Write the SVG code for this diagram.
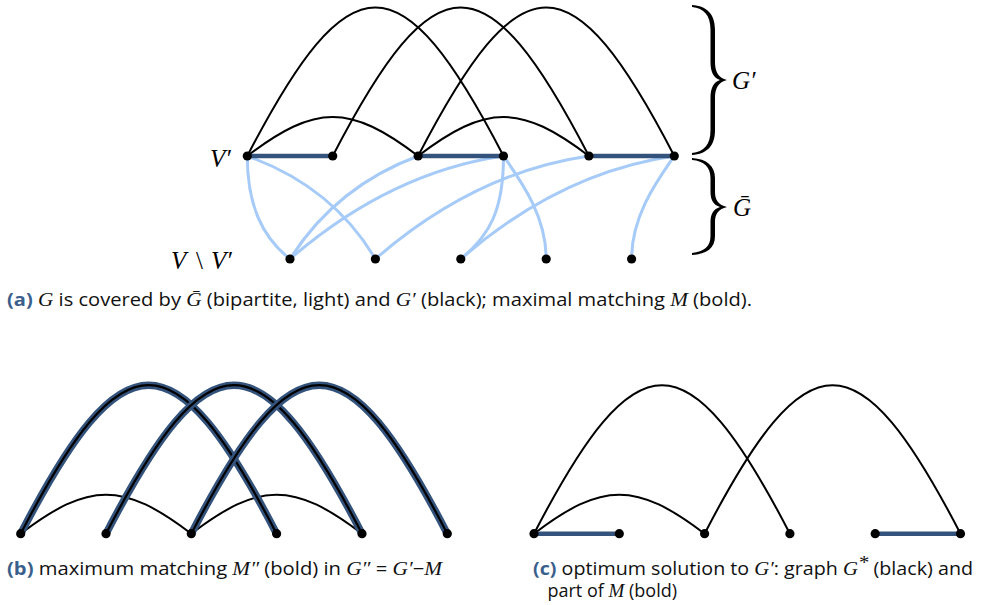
<svg xmlns="http://www.w3.org/2000/svg" width="981" height="605" viewBox="0 0 981 605">
<style>
.arc{fill:none;stroke:#000;stroke-width:2}
.lt{fill:none;stroke:#a6cbf8;stroke-width:3}
.bd{fill:none;stroke:#34537c;stroke-width:4.5}
.bo{fill:none;stroke:#34537c;stroke-width:7.5}
.bi{fill:none;stroke:#000;stroke-width:2.2}
.nd{fill:#000}
.cap{font-family:"Open Sans","Noto Sans",sans-serif;font-size:18px;fill:#111}
.lab{font-weight:bold;fill:#3b5f8c}
.m{font-family:"Liberation Serif",serif;font-style:italic;font-size:19px}
.ml{font-family:"Liberation Serif",serif;font-style:italic;font-size:25px;fill:#000}
.up{font-family:"Liberation Serif",serif;font-style:normal;font-size:25px;fill:#000}
.br{fill:#000}
</style>
<defs>
<circle id="dot" r="4.6"/>
</defs>

<g id="connectors">
  <g id="a-light">
    <path class="lt" d="M247.3,156 C247.3,205 262,237 290,259"/>
    <path class="lt" d="M247.3,156 Q332.6,186.5 375.4,259"/>
    <path class="lt" d="M418.1,156 Q336,186.5 290,259"/>
    <path class="lt" d="M503.5,156 Q390,172.5 290,259"/>
    <path class="lt" d="M503.5,156 C503.5,210 490,235 460.8,259"/>
    <path class="lt" d="M503.5,156 C520,180 546.2,215 546.2,259"/>
    <path class="lt" d="M588.9,156 Q475,172.5 375.4,259"/>
    <path class="lt" d="M674.3,156 Q560,172.5 460.8,259"/>
    <path class="lt" d="M674.3,156 C657.8,180 631.6,215 631.6,259"/>
  </g>
  <g id="a-black">
    <path class="arc" d="M247.3,156 C349.8,-42 401,-42 503.5,156"/>
    <path class="arc" d="M332.7,156 C435.2,-42 486.4,-42 588.9,156"/>
    <path class="arc" d="M418.1,156 C520.6,-42 571.8,-42 674.3,156"/>
    <path class="arc" d="M247.3,156 C315.6,104 349.8,104 418.1,156"/>
    <path class="arc" d="M418.1,156 C486.4,104 520.6,104 588.9,156"/>
  </g>
  <g id="a-bold">
    <path class="bd" d="M247.3,156 H332.7"/>
    <path class="bd" d="M418.1,156 H503.5"/>
    <path class="bd" d="M588.9,156 H674.3"/>
  </g>
  <g id="b-edges">
    <path class="arc" d="M20.7,533.7 C89,481.7 123,481.7 191.3,533.7"/>
    <path class="arc" d="M191.3,533.7 C259.6,481.7 293.7,481.7 362,533.7"/>
    <path class="bo" d="M20.7,533.7 C123.1,335.7 174.2,335.7 276.6,533.7"/>
    <path class="bi" d="M20.7,533.7 C123.1,335.7 174.2,335.7 276.6,533.7"/>
    <path class="bo" d="M106,533.7 C208.4,335.7 259.6,335.7 362,533.7"/>
    <path class="bi" d="M106,533.7 C208.4,335.7 259.6,335.7 362,533.7"/>
    <path class="bo" d="M191.3,533.7 C293.7,335.7 344.9,335.7 447.3,533.7"/>
    <path class="bi" d="M191.3,533.7 C293.7,335.7 344.9,335.7 447.3,533.7"/>
  </g>
  <g id="c-edges">
    <path class="arc" d="M534,533.7 C636.4,335.7 687.5,335.7 789.9,533.7"/>
    <path class="arc" d="M704.6,533.7 C807,335.7 858.1,335.7 960.5,533.7"/>
    <path class="arc" d="M534,533.7 C602.2,481.7 636.4,481.7 704.6,533.7"/>
    <path class="bd" d="M534,533.7 H619.3"/>
    <path class="bd" d="M875.2,533.7 H960.5"/>
  </g>
</g>

<g id="a-v0"><use href="#dot" class="nd" x="247.3" y="156"/></g>
<g id="a-v1"><use href="#dot" class="nd" x="332.7" y="156"/></g>
<g id="a-v2"><use href="#dot" class="nd" x="418.1" y="156"/></g>
<g id="a-v3"><use href="#dot" class="nd" x="503.5" y="156"/></g>
<g id="a-v4"><use href="#dot" class="nd" x="588.9" y="156"/></g>
<g id="a-v5"><use href="#dot" class="nd" x="674.3" y="156"/></g>
<g id="a-u0"><use href="#dot" class="nd" x="290" y="259"/></g>
<g id="a-u1"><use href="#dot" class="nd" x="375.4" y="259"/></g>
<g id="a-u2"><use href="#dot" class="nd" x="460.8" y="259"/></g>
<g id="a-u3"><use href="#dot" class="nd" x="546.2" y="259"/></g>
<g id="a-u4"><use href="#dot" class="nd" x="631.6" y="259"/></g>

<text class="ml" x="210" y="167">V′</text>
<g id="label-vminus">
  <text class="ml" x="171" y="269">V</text>
  <text class="up" x="196" y="269">\</text>
  <text class="ml" x="211" y="269">V′</text>
</g>

<g id="brace-top">
  <path class="br" d="M692,5 C707,6 715,14 715,30 L715,62 C715,72 718.5,78 727,80 C718.5,82 715,88 715,98 L715,130 C715,146 707,154 692,155 L692,153 C704,151.5 710.5,145 710.5,130 L710.5,98 C710.5,88 713.5,82 720,80 C713.5,78 710.5,72 710.5,62 L710.5,30 C710.5,15 704,8.5 692,7 Z"/>
  <text class="ml" x="732" y="89">G′</text>
</g>
<g id="brace-bottom">
  <path class="br" d="M692,158 C707,159 715,166 715,178 L715,192 C715,200 718.5,205 727,207 C718.5,209 715,214 715,222 L715,236 C715,248 707,254 692,255 L692,253 C704,251.5 710.5,247 710.5,236 L710.5,222 C710.5,214 713.5,209 720,207 C713.5,205 710.5,200 710.5,192 L710.5,178 C710.5,167 704,161 692,160 Z"/>
  <text class="ml" x="733" y="216">Ḡ</text>
</g>

<g id="b-v0"><use href="#dot" class="nd" x="20.7" y="533.7"/></g>
<g id="b-v1"><use href="#dot" class="nd" x="106" y="533.7"/></g>
<g id="b-v2"><use href="#dot" class="nd" x="191.3" y="533.7"/></g>
<g id="b-v3"><use href="#dot" class="nd" x="276.6" y="533.7"/></g>
<g id="b-v4"><use href="#dot" class="nd" x="362" y="533.7"/></g>
<g id="b-v5"><use href="#dot" class="nd" x="447.3" y="533.7"/></g>

<g id="c-v0"><use href="#dot" class="nd" x="534" y="533.7"/></g>
<g id="c-v1"><use href="#dot" class="nd" x="619.3" y="533.7"/></g>
<g id="c-v2"><use href="#dot" class="nd" x="704.6" y="533.7"/></g>
<g id="c-v3"><use href="#dot" class="nd" x="789.9" y="533.7"/></g>
<g id="c-v4"><use href="#dot" class="nd" x="875.2" y="533.7"/></g>
<g id="c-v5"><use href="#dot" class="nd" x="960.5" y="533.7"/></g>

<text class="cap" x="7" y="306" textLength="745" lengthAdjust="spacingAndGlyphs"><tspan class="lab">(a)</tspan> <tspan class="m">G</tspan> is covered by <tspan class="m">Ḡ</tspan> (bipartite, light) and <tspan class="m">G′</tspan> (black); maximal matching <tspan class="m">M</tspan> (bold).</text>
<text class="cap" x="7" y="575" textLength="435" lengthAdjust="spacingAndGlyphs"><tspan class="lab">(b)</tspan> maximum matching <tspan class="m">M″</tspan> (bold) in <tspan class="m">G″</tspan> = <tspan class="m">G′</tspan>−<tspan class="m">M</tspan></text>
<text class="cap" x="533" y="575" textLength="440" lengthAdjust="spacingAndGlyphs"><tspan class="lab">(c)</tspan> optimum solution to <tspan class="m">G′</tspan>: graph <tspan class="m">G</tspan><tspan class="m" font-size="13" dy="-6">*</tspan><tspan dy="6"> (black) and</tspan></text>
<text class="cap" x="547.5" y="597">part of <tspan class="m">M</tspan> (bold)</text>
</svg>
